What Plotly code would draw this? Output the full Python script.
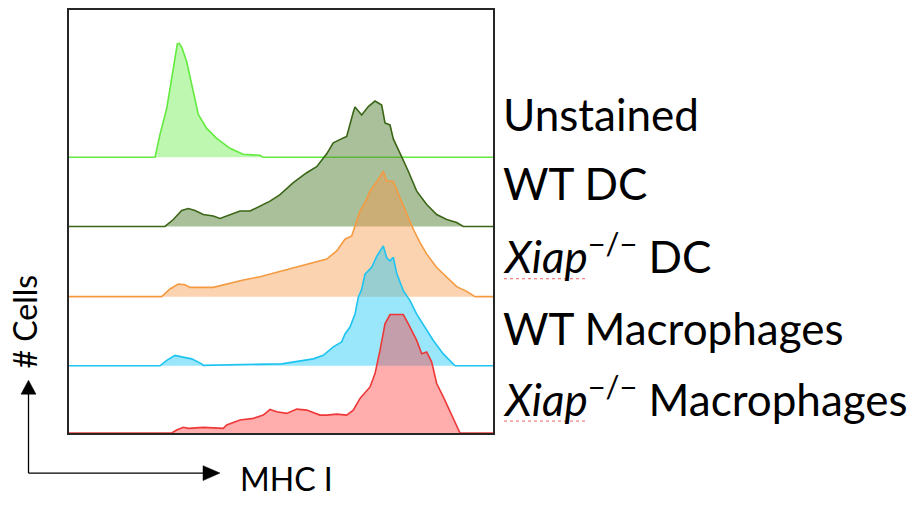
import plotly.graph_objects as go

# ---------------- data (MHC I channel vs. # cells) ----------------
samples = ["Unstained", "WT DC", "Xiap-/- DC", "WT Macrophages", "Xiap-/- Macrophages"]
labels = ["Unstained", "WT DC", "<i>Xiap</i><sup>\u2212/\u2212</sup> DC",
          "WT Macrophages", "<i>Xiap</i><sup>\u2212/\u2212</sup> Macrophages"]

unstained_mhc = [86, 91, 97.7, 104.3, 108.3, 110.3, 113, 117.7, 122.7, 126, 129.3, 137.7,
                 147.7, 161, 174, 191, 194]
unstained_cells = [0, 23, 49, 89, 114, 114.5, 110, 96, 73, 56, 43, 29, 19, 9, 3, 2, 0]

wtdc_mhc = [96, 104.3, 112.7, 119.3, 126, 134.3, 144.3, 151, 161, 171, 181, 191, 201, 211,
            224.3, 237.7, 247.7, 257.7, 264.3, 274.3, 277.7, 284.3, 286, 292.7, 299.3, 306,
            312.7, 316, 321, 324.3, 327.7, 332.7, 339.3, 347.7, 357.7, 367.7, 377.7, 387.7, 394.3]
wtdc_cells = [0, 7, 16, 18, 16, 12, 10.5, 8, 11.5, 15.5, 15.5, 20.5, 25.5, 32, 44, 54, 60, 73,
              84, 89, 90.5, 115, 120, 112, 120.5, 126, 122, 104, 102, 88, 80, 70, 55.5, 35.5,
              22, 12, 7, 4, 0]

koDC_mhc = [92.7, 101, 109.3, 116, 121, 144.3, 151, 174.3, 191, 207.7, 224.3, 241, 257.7,
            267.7, 276, 282.7, 286, 291, 296, 301, 309.3, 314.3, 317.7, 324.3, 331, 337.7,
            344.3, 351, 357.7, 367.7, 377.7, 387.7, 397.7, 406]
koDC_cells = [0, 7.7, 12.7, 12, 9.3, 9.3, 11, 16.7, 20, 24.3, 28.7, 32.7, 37.7, 46, 57.7, 61,
              71, 86, 94.3, 106, 117.7, 126, 116, 116, 99.3, 82.7, 67.7, 54.3, 42.7, 29.3,
              19.3, 10, 5.3, 0]

wtmac_mhc = [91, 97.7, 106, 112.7, 122.7, 132.7, 134.3, 212.7, 244.3, 254.3, 264.3, 272.7,
             276, 281, 286, 289.3, 292.7, 296, 302.7, 307.7, 314.3, 317.7, 321, 324.3, 327.7,
             334.3, 341, 347.7, 356, 364.3, 374.3, 381, 386]
wtmac_cells = [0, 5.5, 10.5, 9, 7, 2, 0.5, 2, 7, 10.5, 19, 24, 32, 39, 52, 69, 77, 92, 99,
               110, 120.5, 108.5, 105.5, 109, 93, 75.5, 65.5, 52, 39, 25.5, 12, 5.5, 0]

komac_mhc = [102.7, 107.7, 114.3, 119.3, 134.3, 154.3, 157.7, 171, 184.3, 194.3, 201, 207.7,
             217.7, 227.7, 237.7, 251, 257.7, 267.7, 277.7, 284.3, 291, 301, 306, 311, 316,
             321, 334.3, 339.3, 347.7, 352.7, 357.7, 362.7, 367.7, 374.3, 382.7, 391]
komac_cells = [0, 3, 5.7, 4.7, 5.7, 4.7, 8, 13, 14.7, 18, 23.7, 21.3, 19.7, 24, 23, 18, 18,
               19, 18, 23, 34.7, 46.3, 59.7, 83, 109.7, 119, 119, 109.7, 93, 79.7, 81.3,
               71.3, 49.7, 36.3, 18, 0]

mhc_series = [unstained_mhc, wtdc_mhc, koDC_mhc, wtmac_mhc, komac_mhc]
cell_series = [unstained_cells, wtdc_cells, koDC_cells, wtmac_cells, komac_cells]

line_colors = ["#62ea3e", "#3b6616", "#f59a40", "#1ec4f0", "#ee3838"]
fill_colors = ["rgba(110,240,80,0.45)", "rgba(84,130,53,0.5)", "rgba(247,150,70,0.42)",
               "rgba(30,200,245,0.45)", "rgba(255,60,60,0.42)"]

X_MAX = 424                              # channel range shown
LANE_OFFSETS = [277, 207.5, 137, 67.5, 0]  # vertical stacking offset of each histogram
Y_MAX = 425

# ---------------- figure ----------------
W, H = 914, 506
ML, MR, MT, MB = 69, 421, 8, 73
PW, PH = W - ML - MR, H - MT - MB

def px(xp):
    return (xp - ML) / PW

def py(yp):
    return (H - MB - yp) / PH

fig = go.Figure()
n = len(samples)
for i in range(n):
    off = LANE_OFFSETS[i]
    xs = [0] + mhc_series[i] + [X_MAX]
    ys = [off] + [off + c for c in cell_series[i]] + [off]
    fig.add_trace(go.Scatter(
        x=xs, y=ys, mode="lines", name=samples[i],
        line=dict(color=line_colors[i], width=1.6),
        fill="toself", fillcolor=fill_colors[i], hoverinfo="skip",
    ))

fig.update_layout(
    width=W, height=H,
    margin=dict(l=ML, r=MR, t=MT, b=MB, pad=0),
    paper_bgcolor="white", plot_bgcolor="white",
    showlegend=False,
    font=dict(family="Lato", color="black"),
    xaxis=dict(range=[0, X_MAX], showgrid=False, zeroline=False, showticklabels=False,
               ticks="", showline=True, mirror=True, linecolor="#262626", linewidth=2),
    yaxis=dict(range=[0, Y_MAX], showgrid=False, zeroline=False, showticklabels=False,
               ticks="", showline=True, mirror=True, linecolor="#262626", linewidth=2),
)

# sample labels
LBL = 44
baselines_px = [130, 200, 273, 345, 417]
for i in range(n):
    fig.add_annotation(
        text=labels[i], xref="paper", yref="paper",
        x=px(501), y=py(baselines_px[i] + 0.213 * LBL + 1),
        xanchor="left", yanchor="bottom", showarrow=False,
        font=dict(size=LBL, color="black", family="Lato"),
    )

# spell-check squiggles under Xiap
for yb in [278, 421]:
    fig.add_shape(type="line", xref="paper", yref="paper",
                  x0=px(504), x1=px(588), y0=py(yb), y1=py(yb),
                  line=dict(color="rgba(230,60,60,0.8)", width=1, dash="dot"))

# axis arrows
AX_X, AX_Y = 28.5, 473.3
fig.add_shape(type="line", xref="paper", yref="paper",
              x0=px(AX_X), y0=py(AX_Y), x1=px(AX_X), y1=py(392),
              line=dict(color="black", width=1.3))
fig.add_shape(type="line", xref="paper", yref="paper",
              x0=px(AX_X), y0=py(AX_Y), x1=px(205), y1=py(AX_Y),
              line=dict(color="black", width=1.3))

def tri(pts):
    d = "M " + " L ".join(f"{px(a):.5f},{py(b):.5f}" for a, b in pts) + " Z"
    return d

fig.add_shape(type="path", xref="paper", yref="paper",
              path=tri([(AX_X, 380), (AX_X - 7.5, 394), (AX_X + 7.5, 394)]),
              fillcolor="black", line=dict(color="black", width=0.5))
fig.add_shape(type="path", xref="paper", yref="paper",
              path=tri([(220, AX_Y), (203, AX_Y - 7.5), (203, AX_Y + 7.5)]),
              fillcolor="black", line=dict(color="black", width=0.5))

AXF = 32
fig.add_annotation(text="MHC I", xref="paper", yref="paper",
                   x=px(238), y=py(492 + 0.213 * AXF + 1), xanchor="left", yanchor="bottom",
                   showarrow=False, font=dict(size=AXF, color="black", family="Lato"))
fig.add_annotation(text="# Cells", xref="paper", yref="paper",
                   x=px(25), y=py(321), xanchor="center", yanchor="middle", textangle=-90,
                   showarrow=False, font=dict(size=AXF, color="black", family="Lato"))

fig.write_html("out.html", config={"displayModeBar": False, "staticPlot": True},
               post_script="document.body.style.margin='0';")
